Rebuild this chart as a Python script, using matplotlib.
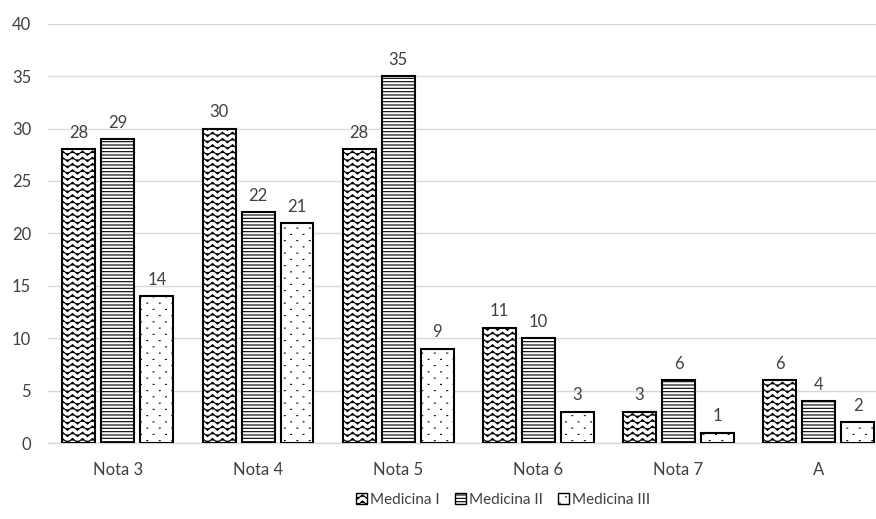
import warnings
import numpy as np
import matplotlib
matplotlib.use("Agg")
import matplotlib.pyplot as plt
import matplotlib.hatch as mhatch
from matplotlib.path import Path

warnings.filterwarnings("ignore")

categories = ["Nota 3", "Nota 4", "Nota 5", "Nota 6", "Nota 7", "A"]
series = ["Medicina I", "Medicina II", "Medicina III"]
med1 = [28, 30, 28, 11, 3, 6]
med2 = [29, 22, 35, 10, 6, 4]
med3 = [14, 21, 9, 3, 1, 2]


# wavy hatch ('~'), matplotlib has none built in
class WaveHatch(mhatch.HatchPatternBase):
    def __init__(self, hatch, density):
        self.rows = 16 * hatch.count('~')
        self.waves = 10
        self.pts = self.waves * 4 + 1
        self.num_vertices = self.rows * self.pts

    def set_vertices_and_codes(self, vertices, codes):
        xs = np.linspace(0, 1, self.pts)
        amp = 0.5 / max(self.rows, 1) * 0.7
        ys = amp * np.sin(2 * np.pi * self.waves * xs)
        for i in range(self.rows):
            y0 = (i + 0.5) / self.rows
            v = vertices[i * self.pts:(i + 1) * self.pts]
            v[:, 0] = xs
            v[:, 1] = y0 + ys
            c = codes[i * self.pts:(i + 1) * self.pts]
            c[:] = Path.LINETO
            c[0] = Path.MOVETO


# tiny staggered dots (','), smaller than the built-in '.'
class DotHatch(mhatch.HatchPatternBase):
    def __init__(self, hatch, density):
        n = hatch.count(',')
        self.cols = 8 * n
        self.rows = 16 * n
        self.num_vertices = self.cols * self.rows * 2 if n else 0

    def set_vertices_and_codes(self, vertices, codes):
        k = 0
        d = 0.008
        for r in range(self.rows):
            y = (r + 0.5) / self.rows
            shift = 0.5 / self.cols if r % 2 else 0.0
            for c in range(self.cols):
                xx = (c + 0.25) / self.cols + shift
                vertices[k] = (xx, y)
                vertices[k + 1] = (xx + d, y)
                codes[k] = Path.MOVETO
                codes[k + 1] = Path.LINETO
                k += 2


mhatch._hatch_types.append(WaveHatch)
mhatch._hatch_types.append(DotHatch)

plt.rcParams['font.family'] = ['Lato', 'DejaVu Sans']
plt.rcParams['hatch.linewidth'] = 0.8

fig = plt.figure(figsize=(8.76, 5.19), dpi=100)
ax = fig.add_axes([47.8 / 876, 1 - 443 / 519, 841 / 876, (443 - 23.7) / 519])

x = np.arange(len(categories))
w = 0.235
off = 0.278
hatches = ['~', '-----', ',']
data = [med1, med2, med3]
fs = 12
for i, (vals, h, lab) in enumerate(zip(data, hatches, series)):
    bars = ax.bar(x + (i - 1) * off, vals, w, color='white', edgecolor='black',
                  linewidth=1.5, hatch=h, label=lab, zorder=3)
    for b, v in zip(bars, vals):
        ax.annotate(str(v), (b.get_x() + b.get_width() / 2, v),
                    xytext=(0, 6), textcoords='offset points',
                    ha='center', va='bottom', fontsize=fs, color='#404040')

ax.set_xlim(-0.5, len(categories) - 0.5)
ax.set_ylim(0, 40)
ax.set_yticks(range(0, 41, 5))
ax.set_xticks(x)
ax.set_xticklabels(categories)
ax.grid(axis='y', color='#d9d9d9', linewidth=1, zorder=0)
for s in ['top', 'right', 'left']:
    ax.spines[s].set_visible(False)
ax.spines['bottom'].set_color('#d9d9d9')
ax.spines['bottom'].set_linewidth(1)
ax.tick_params(axis='both', length=0, labelsize=fs, labelcolor='#404040')
ax.tick_params(axis='x', pad=14)
ax.tick_params(axis='y', pad=12)

fig.legend(loc='center', bbox_to_anchor=(503 / 876, 1 - 500 / 519), ncol=3,
           frameon=False, fontsize=11, handlelength=0.7, handleheight=0.7,
           handletextpad=0.2, columnspacing=1.0, labelcolor='#404040')
for p in fig.legends[0].get_patches():
    p.set_linewidth(1)

fig.savefig("out.png", dpi=100)
